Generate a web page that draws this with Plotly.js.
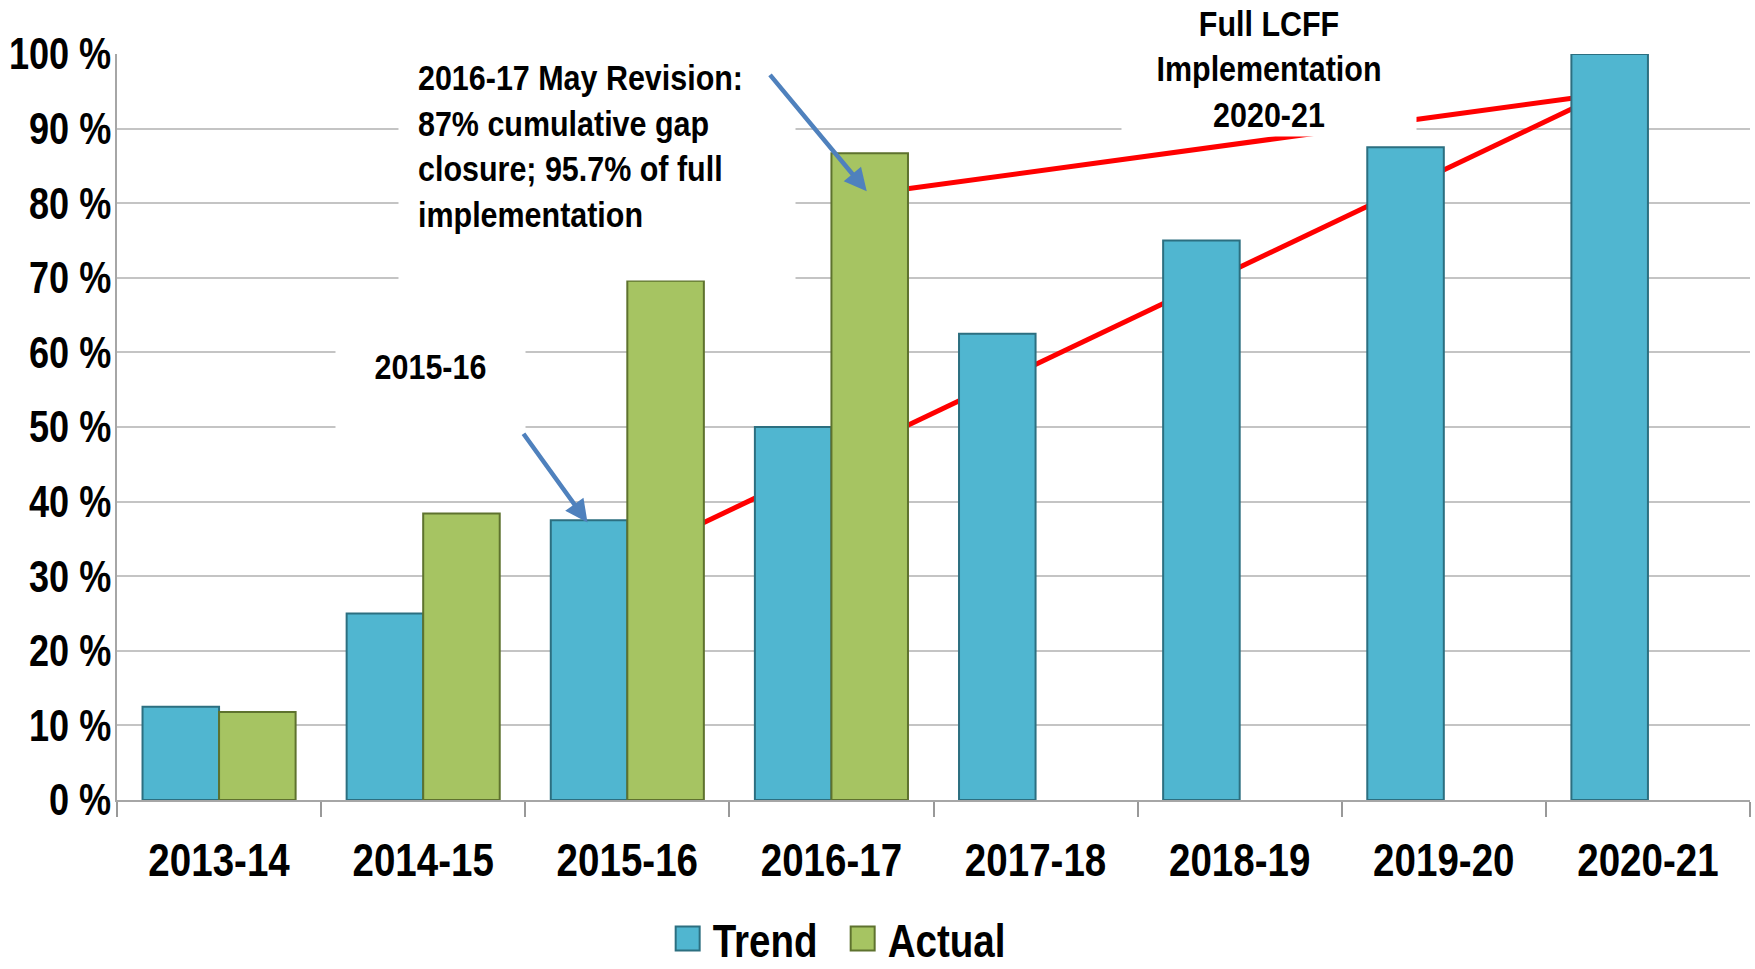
<!DOCTYPE html>
<html>
<head>
<meta charset="utf-8">
<script src="https://cdn.plot.ly/plotly-3.0.1.min.js"></script>
<style>
  html, body { margin: 0; padding: 0; background: #ffffff; }
  #chart { width: 1755px; height: 969px; }
</style>
</head>
<body>
<div id="chart"></div>
<script>
// ---- data ----
const categories = ['2013-14', '2014-15', '2015-16', '2016-17', '2017-18', '2018-19', '2019-20', '2020-21'];
const trendValues = [12.5, 25, 37.5, 50, 62.5, 75, 87.5, 100];
const actualValues = [11.8, 38.4, 69.6, 86.7, null, null, null, null];
const yTickVals = [0, 10, 20, 30, 40, 50, 60, 70, 80, 90, 100];
const yTickText = ['0 %', '10 %', '20 %', '30 %', '40 %', '50 %', '60 %', '70 %', '80 %', '90 %', '100 %'];
// red trajectory lines (x = category index, y = percent)
const lowerLineX = [2.0, 6.8];
const lowerLineY = [32.3, 94.9];
const upperLineX = [3.2, 6.8];
const upperLineY = [81.3, 94.7];
// annotation texts
const noteMay = '2016-17 May Revision:<br>87% cumulative gap<br>closure; 95.7% of full<br>implementation';
const note1516 = '2015-16';
const noteFull = 'Full LCFF<br>Implementation<br>2020-21';

const FONT = '"Liberation Sans", Arial, sans-serif';
const NARROW = 0.82;      // Arial Narrow / Arial width ratio
const NARROW_NOTE = 0.87; // annotations
const TREND = '#50B6D0';
const ACTUAL = '#A6C462';
const ARROW = '#4F81BD';

const traces = [
  { type: 'scatter', mode: 'lines', x: lowerLineX, y: lowerLineY, xaxis: 'x', yaxis: 'y',
    line: { color: '#FF0000', width: 5 }, showlegend: false, hoverinfo: 'skip' },
  { type: 'scatter', mode: 'lines', x: upperLineX, y: upperLineY, xaxis: 'x', yaxis: 'y',
    line: { color: '#FF0000', width: 5 }, showlegend: false, hoverinfo: 'skip' },
  { type: 'bar', name: 'Trend', x: categories, y: trendValues, xaxis: 'x2', yaxis: 'y2',
    marker: { color: TREND, line: { color: '#2C6F80', width: 2 } } },
  { type: 'bar', name: 'Actual', x: categories, y: actualValues, xaxis: 'x2', yaxis: 'y2',
    marker: { color: ACTUAL, line: { color: '#5E722E', width: 2 } } }
];

const layout = {
  width: 1755, height: 969,
  margin: { l: 117, r: 5, t: 54, b: 169 },
  paper_bgcolor: '#ffffff', plot_bgcolor: '#ffffff',
  font: { family: FONT, color: '#000000', weight: 'bold' },
  barmode: 'group', bargap: 0.25, bargroupgap: 0,
  showlegend: true,
  legend: { orientation: 'h', xref: 'container', yref: 'container',
            x: 0.483, xanchor: 'center', y: 0.031, yanchor: 'middle',
            itemwidth: 30, entrywidth: 130, entrywidthmode: 'pixels',
            font: { family: FONT, size: 47, color: '#000', weight: 'bold' }, traceorder: 'normal' },
  xaxis: { type: 'linear', range: [-0.5, 7.5], visible: false, fixedrange: true },
  yaxis: { range: [0, 100], tickvals: yTickVals, ticktext: yTickText, automargin: false,
           showgrid: true, gridcolor: '#C4C4C4', gridwidth: 2, zeroline: false,
           showline: true, linecolor: '#A6A6A6', linewidth: 2, ticks: '',
           ticklabelstandoff: -5,
           tickfont: { family: FONT, size: 44, color: '#000', weight: 'bold' }, fixedrange: true },
  xaxis2: { type: 'category', overlaying: 'x', anchor: 'y2', side: 'bottom', range: [-0.5, 7.5],
            tickson: 'boundaries', ticks: 'outside', ticklen: 15, tickwidth: 2, tickcolor: '#999999',
            showline: true, linecolor: '#A6A6A6', linewidth: 2, showgrid: false, automargin: false,
            ticklabelstandoff: 18,
            tickfont: { family: FONT, size: 47, color: '#000', weight: 'bold' }, fixedrange: true },
  yaxis2: { overlaying: 'y', range: [0, 100], visible: false, fixedrange: true },
  annotations: [
    { xref: 'paper', yref: 'paper', x: 0.1723, y: 1.0214, xanchor: 'left', yanchor: 'top',
      text: noteMay, showarrow: false, align: 'left', valign: 'top',
      width: 358, height: 203, borderpad: 19, bgcolor: '#ffffff',
      font: { family: FONT, size: 35, color: '#000', weight: 'bold' } },
    { xref: 'paper', yref: 'paper', x: 0.1919, y: 0.634, xanchor: 'center', yanchor: 'top',
      text: note1516, showarrow: false, align: 'center', valign: 'top',
      width: 151, height: 92, borderpad: 19, bgcolor: '#ffffff',
      font: { family: FONT, size: 35, color: '#000', weight: 'bold' } },
    { xref: 'paper', yref: 'paper', x: 0.7057, y: 1.0724, xanchor: 'center', yanchor: 'top',
      text: noteFull, showarrow: false, align: 'center', valign: 'middle',
      width: 290, height: 131, borderpad: 2, bgcolor: '#ffffff',
      font: { family: FONT, size: 35, color: '#000', weight: 'bold' } },
    // arrows
    { xref: 'x', yref: 'y', axref: 'x', ayref: 'y', x: 3.173, y: 81.6, ax: 2.693, ay: 97.4,
      text: '', showarrow: true, arrowhead: 2, arrowsize: 1, arrowwidth: 4.5, arrowcolor: ARROW, standoff: 0 },
    { xref: 'x', yref: 'y', axref: 'x', ayref: 'y', x: 1.805, y: 37.2, ax: 1.486, ay: 49.3,
      text: '', showarrow: true, arrowhead: 2, arrowsize: 1, arrowwidth: 4.5, arrowcolor: ARROW, standoff: 0 },
    { xref: 'x', yref: 'y', axref: 'x', ayref: 'y', x: 6.557, y: 100.4, ax: 5.876, ay: 100.4,
      text: '', showarrow: true, arrowhead: 2, arrowsize: 1, arrowwidth: 4.5, arrowcolor: ARROW, standoff: 0 }
  ]
};

// condense a rendered text (or tspan) while keeping its anchor point
function squeeze(el, ratio) {
  const w = el.getComputedTextLength();
  if (!(w > 0)) return;
  const b0 = el.getBBox();
  el.setAttribute('textLength', (w * ratio).toFixed(1));
  el.setAttribute('lengthAdjust', 'spacingAndGlyphs');
  const b1 = el.getBBox();
  const anchor = getComputedStyle(el).textAnchor;
  let shift;
  if (anchor === 'end') shift = (b0.x + b0.width) - (b1.x + b1.width);
  else if (anchor === 'middle') shift = (b0.x + b0.width / 2) - (b1.x + b1.width / 2);
  else shift = b0.x - b1.x;
  if (Math.abs(shift) > 0.3) el.setAttribute('dx', shift.toFixed(1));
}

Plotly.newPlot('chart', traces, layout, { displayModeBar: false, staticPlot: true }).then(function (gd) {
  gd.querySelectorAll('.x2tick text, .ytick text, .legendtext').forEach(function (t) {
    squeeze(t, NARROW);
  });
  gd.querySelectorAll('.annotation-text').forEach(function (t) {
    const lines = t.querySelectorAll('tspan.line');
    if (lines.length) lines.forEach(function (s) { squeeze(s, NARROW_NOTE); });
    else squeeze(t, NARROW_NOTE);
  });
  // larger square legend swatches
  gd.querySelectorAll('.legendpoints path').forEach(function (p) {
    p.setAttribute('d', 'M7,12H-17V-12H7Z');
  });
});
</script>
</body>
</html>
